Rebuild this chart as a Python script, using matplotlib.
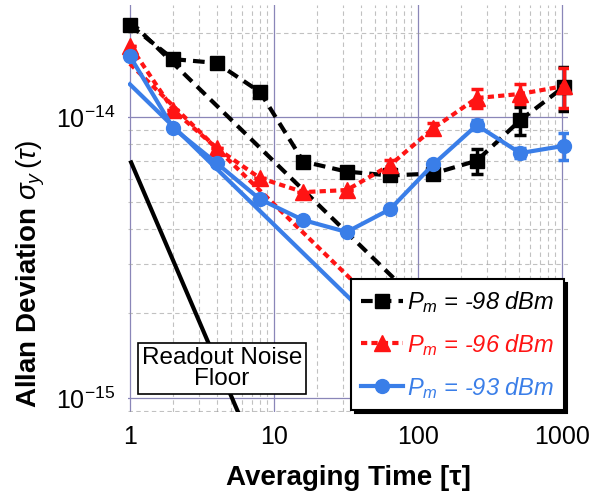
import matplotlib
matplotlib.use('Agg')
import matplotlib.pyplot as plt
from matplotlib.ticker import NullFormatter, LogLocator

plt.rcParams['font.family'] = ['Liberation Sans', 'DejaVu Sans']
plt.rcParams['mathtext.fontset'] = 'custom'
plt.rcParams['mathtext.rm'] = 'Liberation Sans'
plt.rcParams['mathtext.it'] = 'Liberation Sans:italic'
plt.rcParams['mathtext.bf'] = 'Liberation Sans:bold'

# averaging times (powers of 2)
tau = [1, 2, 4, 8, 16, 32, 64, 128, 256, 512, 1024]

# Pm = -98 dBm
adev_98 = [2.13e-14, 1.61e-14, 1.56e-14, 1.23e-14, 6.95e-15, 6.4e-15,
           6.2e-15, 6.3e-15, 7.0e-15, 9.75e-15, 1.28e-14]
err_98 = [0, 0, 0, 0, 0, 0, 0, 0, 0.7e-15, 1.1e-15, 2.3e-15]

# Pm = -96 dBm
adev_96 = [1.80e-14, 1.06e-14, 7.76e-15, 6.07e-15, 5.41e-15, 5.5e-15,
           6.75e-15, 9.14e-15, 1.17e-14, 1.21e-14, 1.29e-14]
err_96 = [0, 0, 0, 0, 0, 0, 0.28e-15, 0.38e-15, 0.9e-15, 1.0e-15, 2.1e-15]

# Pm = -93 dBm
adev_93 = [1.65e-14, 9.14e-15, 6.86e-15, 5.1e-15, 4.3e-15, 3.9e-15,
           4.7e-15, 6.8e-15, 9.37e-15, 7.45e-15, 7.9e-15]
err_93 = [0, 0, 0, 0, 0, 0, 0, 0, 0.4e-15, 0.3e-15, 0.85e-15]

# straight guide lines (end points)
guide_tau = [1, 100]
guide_98 = [2.2e-14, 2.2e-15]
guide_96 = [1.55e-14, 1.55e-15]
guide_93 = [1.31e-14, 1.31e-15]

# readout noise floor
floor_tau = [1.02, 6.5]
floor_adev = [6.9e-15, 7.5e-16]

c_red = '#ff1414'
c_blue = '#3a7ee8'

fig = plt.figure(figsize=(5.9, 4.94), dpi=100)
ax = fig.add_axes([128 / 590, 82 / 494, 440 / 590, 407 / 494])
ax.set_xscale('log')
ax.set_yscale('log')

lw = 3.0
dash_k = (2.8, 1.7)
dash_r = (1.5, 1.0)

# guide lines
ax.plot(guide_tau, guide_98, color='black', lw=lw, linestyle=(0, dash_k))
ax.plot(guide_tau, guide_96, color=c_red, lw=lw, linestyle=(0, dash_r))
ax.plot(guide_tau, guide_93, color=c_blue, lw=lw, linestyle='-')
ax.plot(floor_tau, floor_adev, color='black', lw=lw)

# data
ax.errorbar(tau, adev_98, yerr=err_98, fmt='none', ecolor='black', elinewidth=2.5, capsize=4.5, capthick=2.5)
ax.errorbar(tau, adev_96, yerr=err_96, fmt='none', ecolor=c_red, elinewidth=2.5, capsize=4.5, capthick=2.5)
ax.errorbar(tau, adev_93, yerr=err_93, fmt='none', ecolor=c_blue, elinewidth=2.5, capsize=4.5, capthick=2.5)

ax.plot(tau, adev_98, color='black', lw=lw, linestyle=(0, dash_k), marker='s', ms=10,
        clip_on=False, label=r'$P_m$ = -98 dBm')
ax.plot(tau, adev_96, color=c_red, lw=lw, linestyle=(0, dash_r), marker='^', ms=11,
        clip_on=False, label=r'$P_m$ = -96 dBm')
ax.plot(tau, adev_93, color=c_blue, lw=lw, linestyle='-', marker='o', ms=10,
        clip_on=False, label=r'$P_m$ = -93 dBm')

ax.set_xlim(0.97, 1100)
ax.set_ylim(8.91e-16, 2.51e-14)

ax.set_xticks([1, 10, 100, 1000])
ax.set_xticklabels(['1', '10', '100', '1000'])
ax.set_yticks([1e-15, 1e-14])
ax.xaxis.set_minor_locator(LogLocator(base=10, subs=range(2, 10)))
ax.yaxis.set_minor_locator(LogLocator(base=10, subs=range(2, 10)))
ax.xaxis.set_minor_formatter(NullFormatter())
ax.yaxis.set_minor_formatter(NullFormatter())

ax.grid(True, which='major', color='#8a86b8', lw=0.9, ls='-')
ax.grid(True, which='minor', color='#999999', lw=0.8, ls=(0, (4, 3)), alpha=0.6)
ax.set_axisbelow(True)
for s in ax.spines.values():
    s.set_visible(False)
ax.tick_params(which='both', length=0, labelsize=18, pad=9)

ax.set_xlabel('Averaging Time [τ]', fontsize=20, fontweight='bold', labelpad=12)
ax.set_ylabel(r'Allan Deviation $\sigma_y\,(\tau)$', fontsize=20, fontweight='bold')
ax.yaxis.set_label_coords(-0.185, 0.34)

ax.text(0.2136, 0.107, 'Readout Noise\nFloor', transform=ax.transAxes, fontsize=17.5,
        ha='center', va='center', linespacing=0.95,
        bbox=dict(boxstyle='square,pad=0.16', facecolor='white', edgecolor='black', lw=1.2))

leg = ax.legend(loc='lower right', bbox_to_anchor=(0.99, 0.005), borderaxespad=0,
                prop={'size': 17, 'style': 'italic'}, labelcolor='linecolor',
                fancybox=False, edgecolor='black', framealpha=1, handlelength=1.8,
                handletextpad=0.15, borderpad=0.4, labelspacing=0.72,
                shadow={'color': 'black', 'alpha': 1, 'ox': 2.5, 'oy': -2.5})
leg.get_frame().set_linewidth(1.5)

fig.savefig('out.png', dpi=100)
